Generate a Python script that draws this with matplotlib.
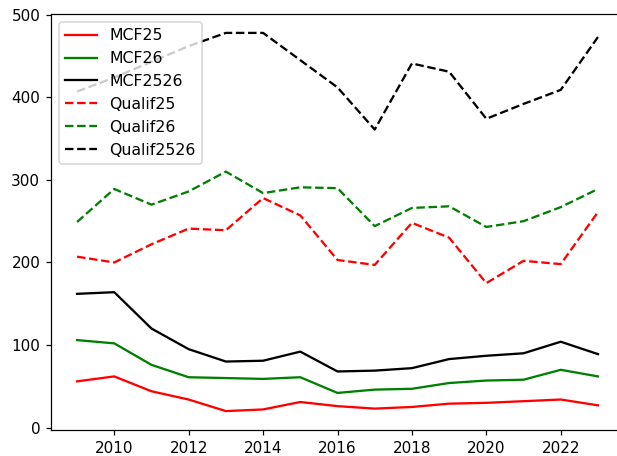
import matplotlib
matplotlib.use("Agg")
import matplotlib.pyplot as plt

years = list(range(2009, 2024))

mcf25 = [56, 62, 44, 34, 20, 22, 31, 26, 23, 25, 29, 30, 32, 34, 27]
mcf26 = [106, 102, 76, 61, 60, 59, 61, 42, 46, 47, 54, 57, 58, 70, 62]
mcf2526 = [162, 164, 120, 95, 80, 81, 92, 68, 69, 72, 83, 87, 90, 104, 89]
qualif25 = [207, 200, 222, 241, 239, 278, 257, 203, 197, 248, 230, 175, 202, 198, 261]
qualif26 = [249, 289, 270, 286, 310, 284, 291, 290, 244, 266, 268, 243, 250, 267, 289]
qualif2526 = [407, 424, 443, 462, 478, 478, 445, 412, 361, 441, 431, 374, 392, 409, 473]

dpi = 110
fig = plt.figure(figsize=(617 / dpi, 456 / dpi), dpi=dpi)
ax = fig.add_axes([51 / 617, 26 / 456, 573 / 617, 416 / 456])

ax.plot(years, mcf25, color="red", label="MCF25")
ax.plot(years, mcf26, color="green", label="MCF26")
ax.plot(years, mcf2526, color="black", label="MCF2526")
ax.plot(years, qualif25, "--", color="red", label="Qualif25")
ax.plot(years, qualif26, "--", color="green", label="Qualif26")
ax.plot(years, qualif2526, "--", color="black", label="Qualif2526")

ax.legend(loc="upper left", fontsize=10.3)

fig.savefig("out.png", dpi=dpi)
